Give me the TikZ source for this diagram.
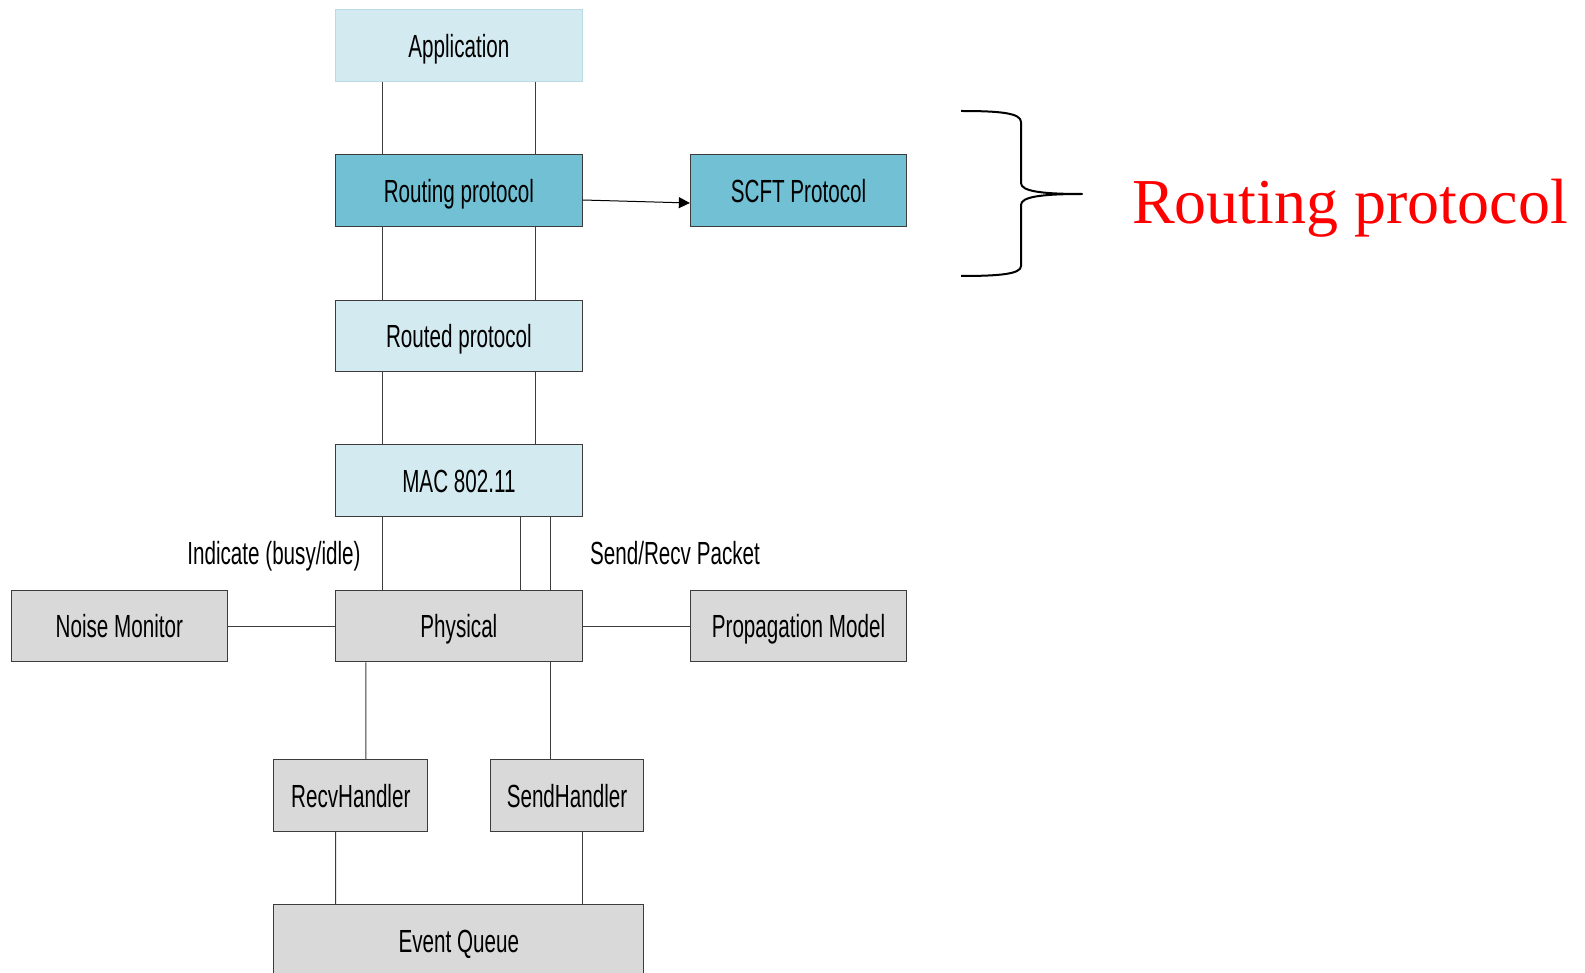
\documentclass[tikz,border=0pt]{standalone}
\usepackage{fontspec}
\setmainfont{Liberation Sans}
\newfontfamily\narrowfont[FakeStretch=0.645]{Liberation Sans}
\newfontfamily\timesfont{Liberation Serif}
\usetikzlibrary{arrows.meta}
\definecolor{lightbl}{RGB}{211,235,240}
\definecolor{lightbd}{RGB}{185,220,228}
\definecolor{midbl}{RGB}{113,192,212}
\definecolor{grayfill}{RGB}{217,217,217}
\definecolor{edgec}{RGB}{60,60,60}
\definecolor{redtxt}{RGB}{255,0,0}
\tikzset{
  box/.style={rectangle, draw=edgec, line width=1pt, inner sep=0pt,
    text height=23.5pt, text depth=0pt,
    font=\narrowfont\fontsize{32}{36}\selectfont, text=black},
  widebox/.style={box, minimum width=246.6pt, minimum height=71.5pt},
  sidebox/.style={box, minimum width=216.3pt, minimum height=71.5pt},
  handbox/.style={box, minimum width=153.7pt, minimum height=71.5pt},
  light/.style={fill=lightbl},
  mid/.style={fill=midbl},
  grey/.style={fill=grayfill},
  conn/.style={draw=edgec, line width=1pt},
  lbl/.style={inner sep=0pt, text height=23.5pt, text depth=0pt,
    font=\narrowfont\fontsize{32}{36}\selectfont}
}
\begin{document}
\begin{tikzpicture}[x=1pt,y=-1pt]
\useasboundingbox (0,0) rectangle (1585,973);
\clip (0,0) rectangle (1585,973);
\fill[white] (0,0) rectangle (1585,973);

\node[widebox, light, draw=lightbd] (app) at (458.9,45.5) {Application};
\node[widebox, mid] (rout) at (458.9,190.5) {Routing protocol};
\node[sidebox, mid] (scft) at (798.5,190.5) {SCFT Protocol};
\node[widebox, light] (routed) at (458.9,336) {Routed protocol};
\node[widebox, light] (mac) at (458.9,480.6) {MAC 802.11};
\node[widebox, grey] (phy) at (458.9,626) {Physical};
\node[sidebox, grey] (noise) at (119.3,626) {Noise Monitor};
\node[sidebox, grey] (prop) at (798.5,626) {Propagation Model};
\node[handbox, grey] (recv) at (350.8,795.5) {RecvHandler};
\node[handbox, grey] (send) at (567,795.5) {SendHandler};
\node[box, grey, minimum width=370pt, minimum height=71.5pt] (evq) at (458.9,940.5) {Event Queue};

\node[lbl] (ind) at (274,553) {Indicate (busy/idle)};
\node[lbl] (sr) at (675,553) {Send/Recv Packet};

% vertical connectors
\foreach \a/\b in {app/rout, rout/routed, routed/mac} {
  \draw[conn] ([xshift=-76.8pt]\a.south) -- ([xshift=-76.8pt]\b.north);
  \draw[conn] ([xshift=76.8pt]\a.south) -- ([xshift=76.8pt]\b.north);
}
\draw[conn] ([xshift=-76.8pt]mac.south) -- ([xshift=-76.8pt]phy.north);
\draw[conn] ([xshift=61.7pt]mac.south) -- ([xshift=61.7pt]phy.north);
\draw[conn] ([xshift=92pt]mac.south) -- ([xshift=92pt]phy.north);

\draw[conn] ([xshift=-93pt]phy.south) -- ([xshift=15.1pt]recv.north);
\draw[conn] ([xshift=92pt]phy.south) -- ([xshift=-16.1pt]send.north);
\draw[conn] ([xshift=-15.2pt]recv.south) -- ([xshift=-123.3pt]evq.north);
\draw[conn] ([xshift=15.2pt]send.south) -- ([xshift=123.3pt]evq.north);

\draw[conn] (noise.east) -- (phy.west);
\draw[conn] (phy.east) -- (prop.west);

\draw[line width=1pt, black, -{Triangle[length=11pt,width=11pt]}]
  ([yshift=-9.5pt]rout.east) -- ([yshift=-12.5pt]scft.west);

% brace
\draw[line width=2pt, black, line join=round]
  (961,111) .. controls (1000,111) and (1021,113) .. (1021,122)
  -- (1021,183) .. controls (1021,191) and (1040,194) .. (1082,194)
  .. controls (1040,194) and (1021,197) .. (1021,205)
  -- (1021,266) .. controls (1021,274) and (1000,276) .. (961,276);

\node[anchor=base west, inner sep=0pt, text=redtxt,
  font=\timesfont\fontsize{64}{70}\selectfont] (rp) at (1132,224) {Routing protocol};
\end{tikzpicture}
\end{document}
